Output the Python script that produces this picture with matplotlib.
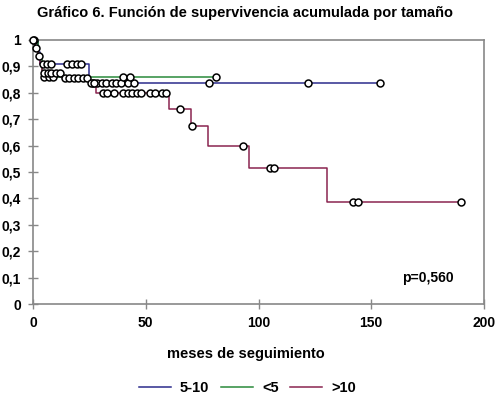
import matplotlib
matplotlib.use("Agg")
import matplotlib.pyplot as plt

plt.rcParams['font.family'] = ['Liberation Sans', 'DejaVu Sans']
plt.rcParams['font.weight'] = 'bold'

# Kaplan-Meier steps (time, survival) and censored points per group
blue_t = [0, 2, 3, 25, 154]
blue_s = [1.0, 0.955, 0.91, 0.838, 0.838]
blue_cens_t = [0.5, 4.5, 6, 8, 15, 17.5, 19.5, 21.5, 26.5, 28.5, 30.5, 32.5, 35, 37, 39, 42, 45, 78, 122, 154]
blue_cens_s = [1.0, 0.91, 0.91, 0.91, 0.91, 0.91, 0.91, 0.91, 0.838, 0.838, 0.838, 0.838, 0.838,
               0.838, 0.838, 0.838, 0.838, 0.838, 0.838, 0.838]

green_t = [0, 2, 4, 81]
green_s = [1.0, 0.93, 0.86, 0.86]
green_cens_t = [1.5, 5, 7, 9, 40, 43, 81]
green_cens_s = [0.97, 0.86, 0.86, 0.86, 0.86, 0.86, 0.86]

red_t = [0, 1, 2, 3, 4, 13, 25, 28, 60.5, 70, 77.5, 96, 130.5, 190]
red_s = [1.0, 0.97, 0.94, 0.91, 0.875, 0.855, 0.835, 0.80, 0.74, 0.675, 0.598, 0.515, 0.385, 0.385]
red_cens_t = [0, 2.5, 5, 6.5, 8, 10, 12, 14, 16, 18, 20, 22, 24, 25.5, 27,
              31, 33, 36, 40, 42, 44, 46, 48, 52, 54, 57, 59, 65, 70.5, 93, 105, 107, 142, 144, 190]
red_cens_s = [1.0, 0.94, 0.875, 0.875, 0.875, 0.875, 0.875, 0.855, 0.855, 0.855, 0.855, 0.855, 0.855,
              0.835, 0.835, 0.80, 0.80, 0.80, 0.80, 0.80, 0.80, 0.80, 0.80, 0.80, 0.80, 0.80, 0.80,
              0.74, 0.675, 0.598, 0.515, 0.515, 0.385, 0.385, 0.385]

x_ticks = [0, 50, 100, 150, 200]
y_ticks = [0, 0.1, 0.2, 0.3, 0.4, 0.5, 0.6, 0.7, 0.8, 0.9, 1]
y_labels = ['0', '0,1', '0,2', '0,3', '0,4', '0,5', '0,6', '0,7', '0,8', '0,9', '1']

groups = [
    ('5-10', blue_t, blue_s, blue_cens_t, blue_cens_s, '#2b2b8c'),
    ('<5', green_t, green_s, green_cens_t, green_cens_s, '#2a8a3a'),
    ('>10', red_t, red_s, red_cens_t, red_cens_s, '#8a2450'),
]

fig = plt.figure(figsize=(5, 3.99), dpi=100)
ax = fig.add_axes([0.066, 0.238, 0.902, 0.662])

for name, t, s, ct, cs, col in groups:
    ax.step(t, s, where='post', color=col, lw=1.1, label=name, clip_on=False)
for name, t, s, ct, cs, col in groups:
    ax.plot(ct, cs, 'o', ms=5, mfc='white', mec='black', mew=1.1,
            linestyle='none', clip_on=False, zorder=5)

ax.set_xlim(0, 200)
ax.set_ylim(0, 1)
ax.set_xticks(x_ticks)
ax.set_yticks(y_ticks)
ax.set_yticklabels(y_labels)
for sp in ax.spines.values():
    sp.set_color('#888888')
    sp.set_linewidth(1.2)
ax.tick_params(direction='inout', length=7, color='#888888', width=1,
               labelsize=10, pad=5)

ax.text(175, 0.1, 'p=0,560', ha='center', va='center', fontsize=10, fontweight='bold')

fig.text(0.49, 1 - 13 / 399, 'Gráfico 6. Función de supervivencia acumulada por tamaño',
         ha='center', va='center', fontsize=10.5, fontweight='bold')
fig.text(0.492, 1 - 354 / 399, 'meses de seguimiento', ha='center', va='center',
         fontsize=10.5, fontweight='bold')

fig.legend(loc='center', bbox_to_anchor=(0.495, 1 - 388 / 399), ncol=3, frameon=False,
           fontsize=10.5, handlelength=2.2, columnspacing=0.8, handletextpad=0.6)

fig.savefig('out.png', dpi=100)
